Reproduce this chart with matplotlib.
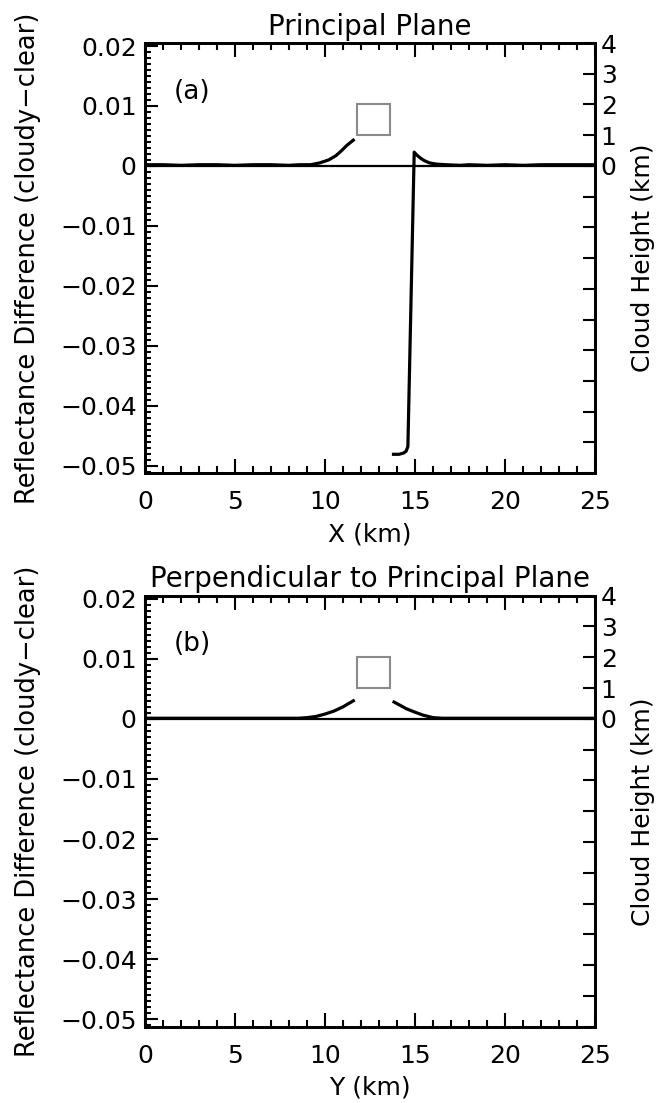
import matplotlib
matplotlib.use("Agg")
import matplotlib.pyplot as plt
from matplotlib.patches import Rectangle
from matplotlib.ticker import MultipleLocator

plt.rcParams["font.family"] = ["DejaVu Sans"]
plt.rcParams["font.size"] = 18

# panel (a): principal plane, left of cloud and right of cloud (shadow)
xa_left = [0, 1, 2, 3, 4, 5, 6, 7, 8, 8.6, 9.2, 9.7, 10.2, 10.6, 10.9, 11.2, 11.57]
ya_left = [0.0002, 0.0002, 0.0001, 0.0002, 0.0002, 0.0001, 0.0002, 0.0002, 0.0001,
           0.0002, 0.0002, 0.0005, 0.0010, 0.0017, 0.0025, 0.0034, 0.0043]
xa_right = [13.8, 14.1, 14.35, 14.5, 14.6, 14.95, 15.1, 15.3, 15.5, 15.8, 16.2, 16.7,
            17.5, 18, 19, 20, 21, 22, 23, 24, 25]
ya_right = [-0.0481, -0.0481, -0.0479, -0.0476, -0.0468, 0.0023, 0.0018, 0.0013, 0.0009,
            0.0005, 0.0003, 0.0002, 0.0001, 0.0002, 0.0001, 0.0002, 0.0001, 0.0002,
            0.0002, 0.0002, 0.0002]

# panel (b): perpendicular to principal plane
xb_left = [0, 1, 2, 3, 4, 5, 6, 7, 8, 8.5, 9.0, 9.5, 10.0, 10.5, 11.0, 11.57]
yb_left = [0.0001, 0.0001, 0.0001, 0.0001, 0.0001, 0.0001, 0.0001, 0.0001, 0.0001,
           0.0001, 0.0002, 0.0004, 0.0008, 0.0013, 0.0020, 0.0030]
xb_right = [13.83, 14.2, 14.5, 15.0, 15.46, 16.0, 16.5, 17, 18, 19, 20, 21, 22, 23, 24, 25]
yb_right = [0.0028, 0.0022, 0.0017, 0.0011, 0.0006, 0.0002, 0.0001, 0.0001, 0.0001,
            0.0001, 0.0001, 0.0001, 0.0001, 0.0001, 0.0001, 0.0001]

# cloud box (km)
cloud_x = [11.8, 13.6]
cloud_z = [1, 2]

left_ticks = [0.02, 0.01, 0, -0.01, -0.02, -0.03, -0.04, -0.05]
left_labels = ["0.02", "0.01", "0", "\u22120.01", "\u22120.02", "\u22120.03", "\u22120.04", "\u22120.05"]
right_ticks = list(range(-10, 5))
right_labels = ["" if t < 0 else str(t) for t in right_ticks]
x_ticks = [0, 5, 10, 15, 20, 25]

panels = [
    ("Principal Plane", "X (km)", "(a)", xa_left, ya_left, xa_right, ya_right),
    ("Perpendicular to Principal Plane", "Y (km)", "(b)", xb_left, yb_left, xb_right, yb_right),
]

fig = plt.figure(figsize=(6.65, 11.03), dpi=100)
boxes = [[0.218, 0.571, 0.677, 0.390], [0.218, 0.069, 0.677, 0.391]]

for box, (title, xlab, tag, xl, yl, xr, yr) in zip(boxes, panels):
    ax = fig.add_axes(box)
    ax.plot(xl, yl, color="black", lw=2.3)
    ax.plot(xr, yr, color="black", lw=2.3)
    ax.axhline(0, color="black", lw=1.6)
    ax.set_xlim(0, 25)
    ax.set_ylim(-0.05125, 0.0205)
    ax.set_xticks(x_ticks)
    ax.xaxis.set_minor_locator(MultipleLocator(1))
    ax.set_yticks(left_ticks)
    ax.set_yticklabels(left_labels)
    ax.yaxis.set_minor_locator(MultipleLocator(0.001))
    ax.tick_params(axis="x", which="both", direction="in", top=True, pad=12)
    ax.tick_params(axis="x", which="major", length=10, width=1.5)
    ax.tick_params(axis="x", which="minor", length=5, width=1.5)
    ax.tick_params(axis="y", which="both", direction="in", right=False, pad=6)
    ax.tick_params(axis="y", which="major", length=9, width=1.5)
    ax.tick_params(axis="y", which="minor", length=4, width=1.5)
    for s in ax.spines.values():
        s.set_linewidth(2)
    ax.set_title(title, pad=6, fontsize=20)
    ax.set_xlabel(xlab, labelpad=6)
    ax.set_ylabel("Reflectance Difference (cloudy\u2212clear)", fontsize=18.5)
    ax.yaxis.set_label_coords(-0.23, 0.5)
    ax.text(1.6, 0.0124, tag, ha="left", va="center", fontsize=19)

    ax2 = ax.twinx()
    ax2.set_ylim(-10, 4)
    ax2.set_yticks(right_ticks)
    ax2.set_yticklabels(right_labels)
    ax2.tick_params(axis="y", direction="in", length=9, width=1.5, pad=4)
    ax2.set_ylabel("Cloud Height (km)")
    ax2.yaxis.set_label_coords(1.08, 0.5)
    ax2.add_patch(Rectangle((cloud_x[0], cloud_z[0]), cloud_x[1] - cloud_x[0],
                            cloud_z[1] - cloud_z[0], fill=False,
                            edgecolor="#8a8a8a", lw=1.5))
    for s in ax2.spines.values():
        s.set_linewidth(2)

fig.savefig("out.png", dpi=100)
